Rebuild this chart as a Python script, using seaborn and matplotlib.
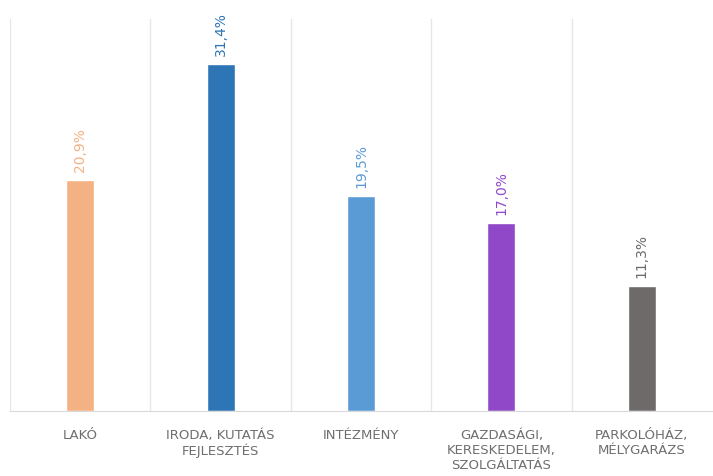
import matplotlib
matplotlib.use("Agg")
import matplotlib.pyplot as plt
import seaborn as sns
import pandas as pd

categories = ["LAKÓ", "IRODA, KUTATÁS\nFEJLESZTÉS", "INTÉZMÉNY",
              "GAZDASÁGI,\nKERESKEDELEM,\nSZOLGÁLTATÁS", "PARKOLÓHÁZ,\nMÉLYGARÁZS"]
values = [20.9, 31.4, 19.5, 17.0, 11.3]
labels = ["20,9%", "31,4%", "19,5%", "17,0%", "11,3%"]
colors = ["#F4B183", "#2E75B6", "#5B9BD5", "#9148C8", "#6E6A6A"]

df = pd.DataFrame({"cat": categories, "val": values})

sns.set_style("white")
fig = plt.figure(figsize=(7.13, 4.77), dpi=100)
ax = fig.add_axes([10 / 713, 65 / 477, 702 / 713, 392 / 477])

sns.barplot(data=df, x="cat", y="val", hue="cat", palette=colors,
            width=0.2, legend=False, ax=ax, saturation=1)

ax.set_ylim(0, 35.5)
ax.set_xlim(-0.5, 4.5)

# separators between categories
for xv in [-0.5, 0.5, 1.5, 2.5, 3.5]:
    ax.axvline(xv, color="#E6E6E6", lw=1, zorder=0)

for i, (v, lab) in enumerate(zip(values, labels)):
    ax.text(i, v + 0.8, lab, rotation=90, ha="center", va="bottom",
            color=colors[i], fontsize=10)

for s in ["top", "right", "left"]:
    ax.spines[s].set_visible(False)
ax.spines["bottom"].set_color("#D9D9D9")
ax.set_yticks([])
ax.set_xlabel("")
ax.set_ylabel("")
ax.tick_params(axis="x", length=0, pad=12, labelsize=9.5, labelcolor="#6F6F6F")
for t in ax.get_xticklabels():
    t.set_linespacing(1.2)

plt.savefig("out.png", dpi=100)
